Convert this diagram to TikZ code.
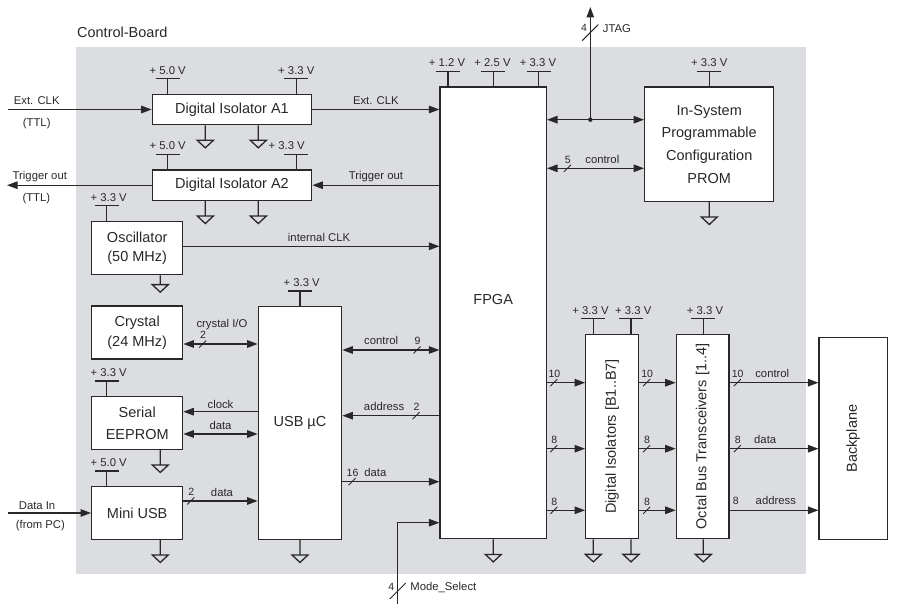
\documentclass[tikz,border=0pt]{standalone}
\usepackage{fontspec}
\setmainfont{Liberation Sans}
\usepackage{xcolor}
\usepackage{tikz}
\usetikzlibrary{arrows.meta}

\definecolor{boardgray}{RGB}{220,221,224}
\definecolor{wire}{RGB}{40,40,40}

\newcommand{\boxfont}{\fontsize{14.5}{19.5}\selectfont}
\newcommand{\promfont}{\fontsize{14.5}{22.6}\selectfont}
\newcommand{\eepfont}{\fontsize{14.5}{22}\selectfont}
\newcommand{\lblfont}{\fontsize{11.3}{13}\selectfont}
\newcommand{\numfont}{\fontsize{10.5}{12}\selectfont}

\begin{document}
\begin{tikzpicture}[
  x=1pt, y=-1pt, color=wire, line width=1.3pt,
  box/.style={draw, fill=white, inner sep=0pt, align=center, font=\boxfont},
  arrow/.style={-{Triangle[length=10.5pt,width=7.5pt]}},
  biarrow/.style={{Triangle[length=10.5pt,width=7.5pt]}-{Triangle[length=10.5pt,width=7.5pt]}},
  lbl/.style={font=\lblfont, inner sep=0pt, text height=8pt, text depth=0pt},
  num/.style={font=\numfont, inner sep=0pt},
  pics/gnd/.style={code={\draw[-] (0,0) -- (0,#1) (-8,#1) -- (8,#1) -- (0,#1+7.5) -- cycle;}},
  pics/gnd/.default=15,
  pics/vcc/.style 2 args={code={
    \draw[-] (0,0) -- (0,-15) (-12,-15) -- (12,-15);
    \node[lbl, anchor=base] at (#2,-19.6) {#1};}},
  pics/bus/.style={code={
    \draw[-, line width=0.9pt] (-3.5,3.5) -- (3.5,-3.5);
    \node[num, anchor=base] at (0.5,-5) {#1};}},
  pics/vbus/.style={code={
    \draw[-, line width=0.9pt] (-8,8) -- (8,-8);
    \node[num] at (-6.3,-4.5) {#1};}}
]
\useasboundingbox (0,0) rectangle (900,609);
\fill[boardgray] (76,47) rectangle (806,574);
\node[anchor=west, inner sep=0pt, font=\boxfont] (title) at (76.5,32) {Control-Board};

% blocks
\node[box, minimum width=159.4, minimum height=30.4] (a1) at (232,109.5) {Digital Isolator A1};
\node[box, minimum width=159.4, minimum height=30.4] (a2) at (232,185.2) {Digital Isolator A2};
\node[box, minimum width=91, minimum height=53.4] (osc) at (137.2,248) {Oscillator\\(50 MHz)};
\node[box, minimum width=91, minimum height=53] (xtal) at (137.2,332.5) {Crystal\\(24 MHz)};
\node[box, minimum width=91, minimum height=52.6, font=\eepfont] (eeprom) at (137.2,423) {Serial\\EEPROM};
\node[box, minimum width=91, minimum height=52.6] (miniusb) at (137.2,513) {Mini USB};
\node[box, minimum width=83.4, minimum height=232.6] (usb) at (300,423) {USB µC};
\node[box, minimum width=106.3, minimum height=451.7,
      label={[font=\boxfont, yshift=12.9pt]center:FPGA}] (fpga) at (493.2,312.9) {};
\node[box, minimum width=129, minimum height=114.3, font=\promfont] (prom) at (709.2,144.2)
  {In-System\\Programmable\\Configuration\\PROM};
\node[box, minimum width=53, minimum height=204.4,
      label={[rotate=90, font=\boxfont]center:{Digital Isolators [B1..B7]}}] (di) at (612.2,436.5) {};
\node[box, minimum width=52.7, minimum height=204.4,
      label={[rotate=90, font=\boxfont]center:{Octal Bus Transceivers [1..4]}}] (obt) at (702.7,436.5) {};
\node[box, minimum width=68.3, minimum height=201.6,
      label={[rotate=90, font=\boxfont]center:Backplane}] (bp) at (853.2,438.5) {};

% supplies
\pic at (a1.north -| 167.7,0) {vcc={+ 5.0 V}{0}};
\pic at (a1.north -| 296.3,0) {vcc={+ 3.3 V}{0}};
\pic at (a2.north -| 167.7,0) {vcc={+ 5.0 V}{0}};
\pic at (a2.north -| 296.3,0) {vcc={+ 3.3 V}{-9.6}};
\pic at (osc.north -| 106.7,0) {vcc={+ 3.3 V}{2}};
\pic at (eeprom.north -| 106.7,0) {vcc={+ 3.3 V}{2}};
\pic at (miniusb.north -| 106.7,0) {vcc={+ 5.0 V}{2}};
\pic at (usb.north) {vcc={+ 3.3 V}{1.7}};
\pic at (fpga.north -| 448,0) {vcc={+ 1.2 V}{-1}};
\pic at (fpga.north -| 493.3,0) {vcc={+ 2.5 V}{-0.8}};
\pic at (fpga.north -| 538.7,0) {vcc={+ 3.3 V}{-0.7}};
\pic at (prom.north -| 709.3,0) {vcc={+ 3.3 V}{0}};
\pic at (di.north -| 593.3,0) {vcc={+ 3.3 V}{-2.8}};
\pic at (di.north -| 631,0) {vcc={+ 3.3 V}{2.3}};
\pic at (obt.north -| 703.3,0) {vcc={+ 3.3 V}{1.7}};

% grounds
\pic at (a1.south -| 205.3,0) {gnd};
\pic at (a1.south -| 258.3,0) {gnd};
\pic at (a2.south -| 205.3,0) {gnd};
\pic at (a2.south -| 258.3,0) {gnd};
\pic at (osc.south -| 160.3,0) {gnd=9.3};
\pic at (eeprom.south -| 160.3,0) {gnd};
\pic at (miniusb.south -| 160.3,0) {gnd};
\pic at (usb.south) {gnd};
\pic at (fpga.south -| 493.3,0) {gnd};
\pic at (prom.south -| 709.3,0) {gnd};
\pic at (di.south -| 593.3,0) {gnd};
\pic at (di.south -| 631,0) {gnd};
\pic at (obt.south -| 703.3,0) {gnd};

% signal rows
\coordinate (extclk) at (8,109.5);
\coordinate (trigout) at (7,185.2);
\coordinate (datain) at (8,513);
\coordinate (rosc) at (0,246.3);
\coordinate (rxtal) at (0,344);
\coordinate (rclk) at (0,411.7);
\coordinate (rdat) at (0,434);
\coordinate (rusb) at (0,501);
\coordinate (rctl) at (0,350);
\coordinate (raddr) at (0,415.7);
\coordinate (rdata) at (0,481.7);
\coordinate (rmode) at (0,522.7);
\coordinate (rprom) at (0,168.3);
\coordinate (jtag) at (590.3,119.7);
\coordinate (jtagtop) at (590.3,7);
\coordinate (msel) at (397.7,604);
\coordinate (b1) at (0,382.7);
\coordinate (b2) at (0,448.7);
\coordinate (b3) at (0,510.3);

\draw[arrow] (extclk) -- (a1) node[lbl, above=4.4pt, pos=0.2] {Ext. CLK}
  node[lbl, below=8pt, pos=0.2] {(TTL)};
\draw[arrow] (a1) -- (a1 -| fpga.west) node[lbl, above=4.4pt, midway] {Ext. CLK};
\draw[arrow] (a2 -| fpga.west) -- (a2) node[lbl, above=5pt, midway] {Trigger out};
\draw[arrow] (a2) -- (trigout) node[lbl, above=5pt, pos=0.773] {Trigger out}
  node[lbl, below=8pt, pos=0.797] {(TTL)};
\draw[arrow] (osc.east |- rosc) -- (fpga.west |- rosc) node[lbl, above=4pt, pos=0.53] {internal CLK};

\draw[biarrow] (xtal.east |- rxtal) -- (usb.west |- rxtal) pic[pos=0.26] {bus=2}
  node[lbl, above=16pt, pos=0.52] {crystal I/O};
\draw[arrow] (usb.west |- rclk) -- (eeprom.east |- rclk) node[lbl, above=3pt, midway] {clock};
\draw[biarrow] (eeprom.east |- rdat) -- (usb.west |- rdat) node[lbl, above=4pt, midway] {data};
\draw[arrow] (miniusb.east |- rusb) -- (usb.west |- rusb) pic[pos=0.1] {bus=2}
  node[lbl, above=4pt, pos=0.52] {data};
\draw[arrow] (datain) -- (miniusb) node[lbl, above=2.5pt, pos=0.35] {Data In}
  node[lbl, below=7pt, pos=0.39] {(from PC)};

\draw[biarrow] (usb.east |- rctl) -- (fpga.west |- rctl) pic[pos=0.77] {bus=9}
  node[lbl, above=5pt, pos=0.4] {control};
\draw[arrow] (fpga.west |- raddr) -- (usb.east |- raddr) pic[pos=0.24] {bus=2}
  node[lbl, above=5pt, pos=0.57] {address};
\draw[arrow] (usb.east |- rdata) -- (fpga.west |- rdata) pic[pos=0.1] {bus=16}
  node[lbl, above=4.4pt, pos=0.34] {data};
\draw[arrow] (msel) |- (fpga.west |- rmode) pic[pos=0.079] {vbus=4}
  node[lbl, right=12pt, pos=0.107] {Mode\_Select};

\draw[arrow] (jtag) -- (jtagtop) pic[pos=0.773] {vbus=4} node[lbl, right=12pt, pos=0.813] {JTAG};
\draw[biarrow] (fpga.east |- jtag) -- (prom.west |- jtag);
\fill (jtag) circle[radius=2.2pt];
\draw[biarrow] (fpga.east |- rprom) -- (prom.west |- rprom) pic[pos=0.21] {bus=5}
  node[lbl, above=4pt, pos=0.57] {control};

\foreach \r/\n in {b1/10, b2/8, b3/8} {
  \draw[arrow] (fpga.east |- \r) -- (di.west |- \r) pic[pos=0.18] {bus=\n};
  \draw[arrow] (di.east |- \r) -- (obt.west |- \r) pic[pos=0.2] {bus=\n};
}
\draw[arrow] (obt.east |- b1) -- (bp.west |- b1) pic[pos=0.085] {bus=10}
  node[lbl, above=4.7pt, pos=0.48] {control};
\draw[arrow] (obt.east |- b2) -- (bp.west |- b2) pic[pos=0.085] {bus=8}
  node[lbl, above=4.7pt, pos=0.4] {data};
\draw[arrow] (obt.east |- b3) -- (bp.west |- b3) node[num, anchor=base, above=5pt, pos=0.07] {8}
  node[lbl, above=4.7pt, pos=0.52] {address};
\end{tikzpicture}
\end{document}
